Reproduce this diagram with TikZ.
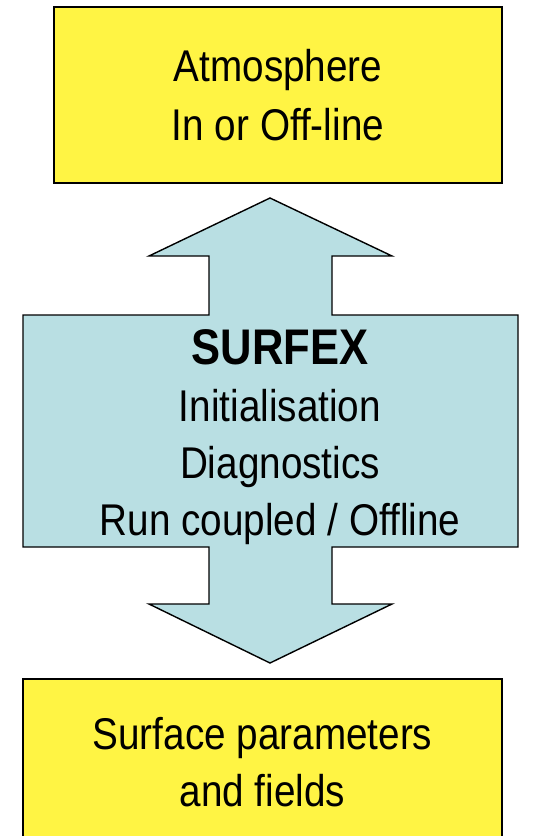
\documentclass[tikz,border=0pt]{standalone}
\usepackage{fontspec}
\newfontfamily\sfxfont[FakeStretch=0.87]{Liberation Sans}
\usetikzlibrary{positioning}
\definecolor{box-yellow}{RGB}{255,244,68}
\definecolor{arrow-blue}{RGB}{185,223,227}

\begin{document}
\begin{tikzpicture}[x=0.02cm, y=-0.02cm,
	   yb/.style={draw, line width=1.1pt, fill=box-yellow, inner sep=0pt, align=center,
	     font=\sfxfont\fontsize{25.3}{34}\selectfont},
	   t/.style={inner sep=0pt, align=center, font=\sfxfont\fontsize{25.3}{32.3}\selectfont}]
	  \useasboundingbox (0,0) rectangle (541,836);
	  \clip (0,0) rectangle (541,836);
	  % up and down arrow with the box in the middle
	  \draw[line width=0.8pt, fill=arrow-blue] (270,198) -- (392,256) -- (332,256) -- (332,315) -- (518,315)
	    -- (518,547) -- (332,547) -- (332,604) -- (392,604) -- (270,663) -- (149,604) -- (209,604)
	    -- (209,547) -- (23,547) -- (23,315) -- (209,315) -- (209,256) -- (149,256) -- cycle;
	  \node[yb, minimum width=8.96cm, minimum height=3.52cm] (atmos) at (278,95) {Atmosphere\\In or Off-line};
	  \node[t] (sfx) at (280,437) {{\fontsize{28.5}{32.3}\selectfont\bfseries SURFEX}\\Initialisation\\Diagnostics\\Run coupled / Offline};
	  \node[yb, minimum width=9.58cm, minimum height=3.32cm, font=\sfxfont\fontsize{25.3}{32.3}\selectfont] (surf) at (262.5,762) {Surface parameters\\and fields};
	\end{tikzpicture}
\end{document}
